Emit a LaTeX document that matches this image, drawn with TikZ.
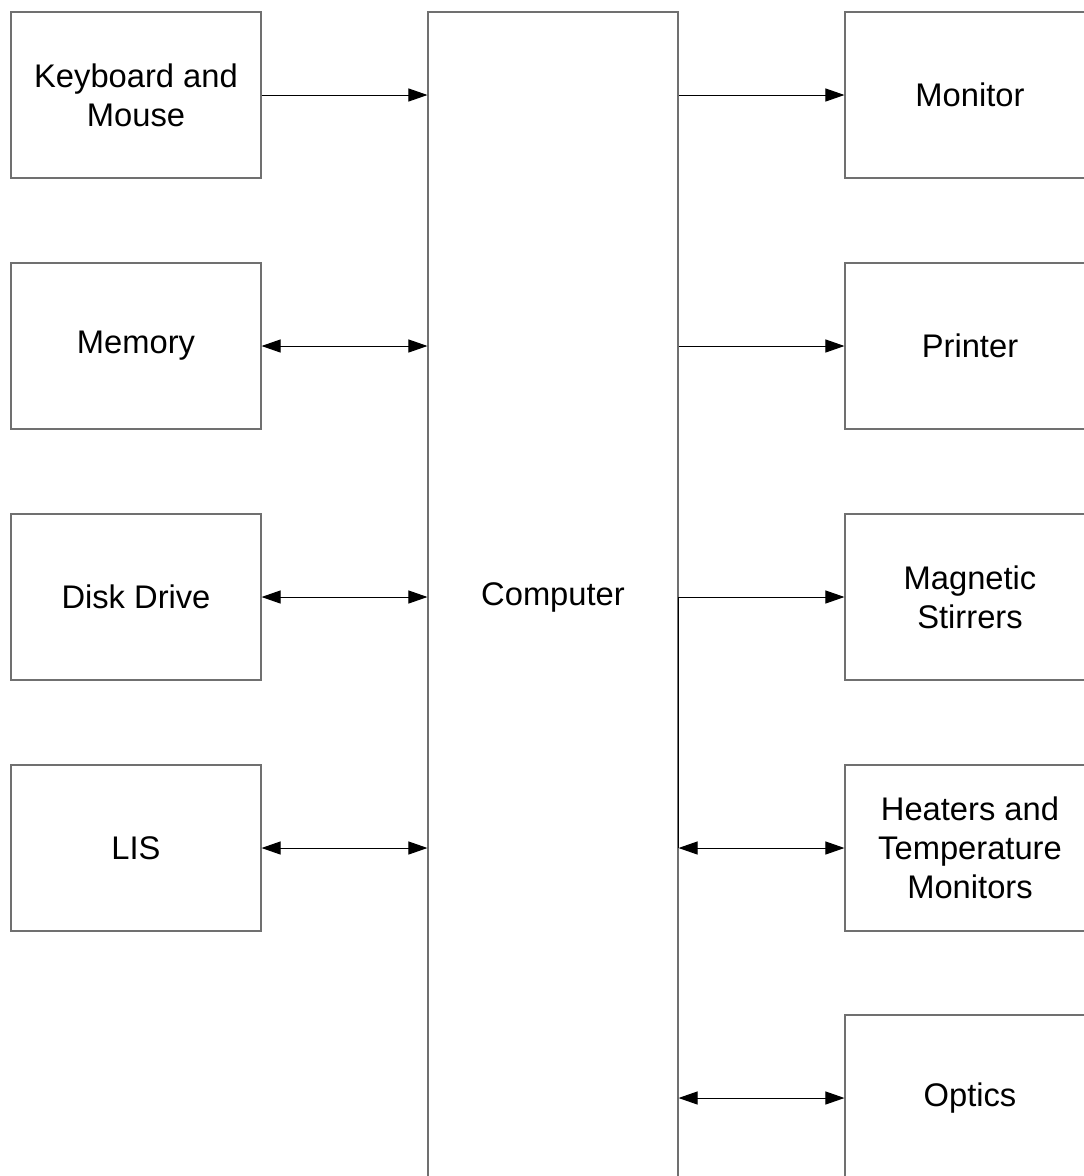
\documentclass[tikz,border=0pt]{standalone}
\usepackage{fontspec}
\setmainfont{Liberation Sans}
\usetikzlibrary{arrows.meta}
\begin{document}
\begin{tikzpicture}[x=1pt,y=-1pt,
  box/.style={draw=boxgray, line width=1.1pt, minimum width=250pt, minimum height=166pt,
    inner sep=0pt, align=center, font=\fontsize{32.7}{39}\selectfont},
  tip/.style={Triangle[length=19pt,width=13pt]},
  conn/.style={draw=black, line width=1pt, -{Triangle[length=19pt,width=13pt]}},
  bconn/.style={draw=black, line width=1pt, {Triangle[length=19pt,width=13pt]}-{Triangle[length=19pt,width=13pt]}}]
\definecolor{boxgray}{HTML}{707070}
\useasboundingbox (0,0) rectangle (1084,1176);
\clip (0,0) rectangle (1084,1176);
\fill[white] (0,0) rectangle (1084,1176);
% left column
\node[box] (kb) at (136,95) {Keyboard and\\Mouse};
\node[box] (mem) at (136,346) {Memory};
\node[box] (disk) at (136,597) {Disk Drive};
\node[box] (lis) at (136,848) {LIS};
% computer
\node[box, minimum height=1170pt] (comp) at (553,597) {Computer};
% right column
\node[box] (mon) at (970,95) {Monitor};
\node[box] (prn) at (970,346) {Printer};
\node[box] (mag) at (970,597) {Magnetic\\Stirrers};
\node[box] (heat) at (970,848) {Heaters and\\Temperature\\Monitors};
\node[box] (opt) at (970,1098) {Optics};
% connectors
\draw[conn] (kb.east) -- (kb.east -| comp.west);
\draw[bconn] (mem.east) -- (mem.east -| comp.west);
\draw[bconn] (disk.east) -- (disk.east -| comp.west);
\draw[bconn] (lis.east) -- (lis.east -| comp.west);
\draw[conn] (mon.west -| comp.east) -- (mon.west);
\draw[conn] (prn.west -| comp.east) -- (prn.west);
\draw[conn] (mag.west -| comp.east) -- (mag.west);
\draw[bconn] (heat.west -| comp.east) -- (heat.west);
\draw[bconn] (opt.west -| comp.east) -- (opt.west);
\draw[black, line width=1.1pt] (mag.west -| comp.east) -- (heat.west -| comp.east);
\end{tikzpicture}
\end{document}
